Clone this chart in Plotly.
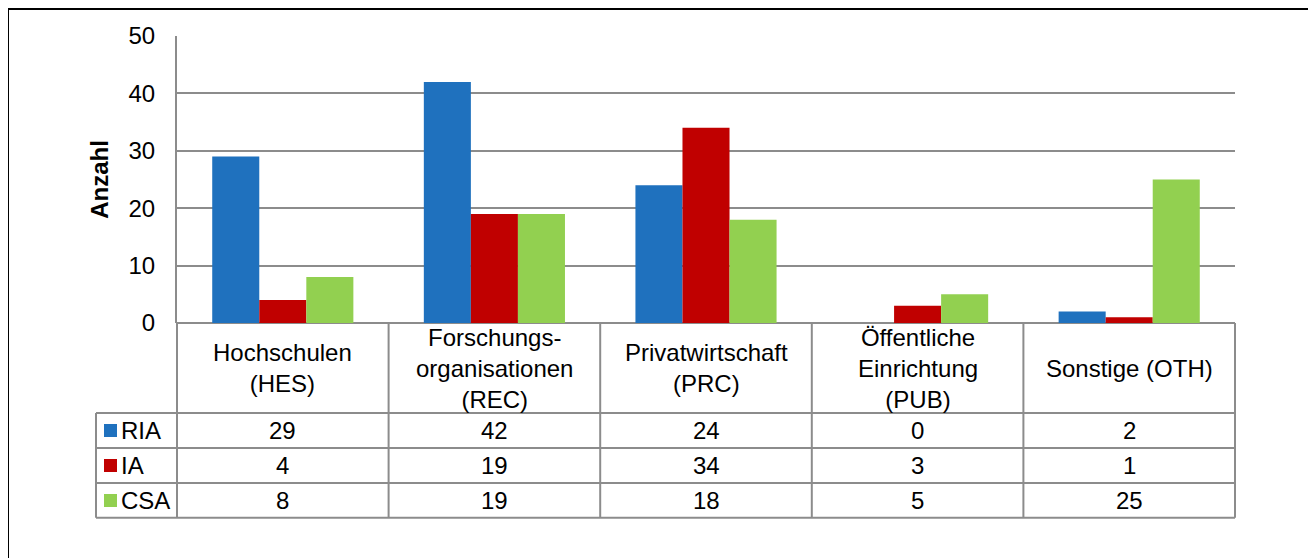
import plotly.graph_objects as go

kategorien = ["HES", "REC", "PRC", "PUB", "OTH"]
kategorie_labels = [
    "Hochschulen<br>(HES)",
    "Forschungs-<br>organisationen<br>(REC)",
    "Privatwirtschaft<br>(PRC)",
    "Öffentliche<br>Einrichtung<br>(PUB)",
    "Sonstige (OTH)",
]
serien = ["RIA", "IA", "CSA"]
werte_ria = [29, 42, 24, 0, 2]
werte_ia = [4, 19, 34, 3, 1]
werte_csa = [8, 19, 18, 5, 25]
farben = ["#1F71BE", "#C00000", "#92D050"]

W, H = 1316, 558
OFF = 8  # body margin of the html page
L, R, T, B = 177, 1235, 36, 323  # plot area in screen pixels
FONT = "Liberation Sans, Arial, sans-serif"
FS = 24
GRAU = "#8C8C8C"


def px_x(X):
    return (X - L) / (R - L)


def px_y(Y):
    return (B - Y) / (B - T)


fig = go.Figure()
for name, werte, farbe in zip(serien, [werte_ria, werte_ia, werte_csa], farben):
    fig.add_trace(go.Bar(x=kategorien, y=werte, name=name,
                         marker=dict(color=farbe, line=dict(width=0))))

# table lines
zeilen = [413, 448, 483, 517.7]
links_tab = 96
shapes = []
linie = dict(color=GRAU, width=2)
for Y in zeilen:
    shapes.append(dict(type="line", xref="paper", yref="paper",
                       x0=px_x(links_tab), x1=1, y0=px_y(Y), y1=px_y(Y), line=linie))
shapes.append(dict(type="line", xref="paper", yref="paper",
                   x0=px_x(links_tab), x1=px_x(links_tab), y0=px_y(413), y1=px_y(517.7), line=linie))
shapes.append(dict(type="line", xref="paper", yref="paper",
                   x0=0, x1=0, y0=0, y1=px_y(517.7), line=linie))
for k in range(1, len(kategorien) + 1):
    xp = k / len(kategorien)
    shapes.append(dict(type="line", xref="paper", yref="paper",
                       x0=xp, x1=xp, y0=0, y1=px_y(517.7), line=linie))

# outer frame
shapes.append(dict(type="rect", xref="paper", yref="paper",
                   x0=px_x(8), x1=px_x(1311), y0=px_y(9), y1=px_y(580),
                   line=dict(color="black", width=2), fillcolor="rgba(0,0,0,0)"))

annotations = []
for kat, lab in zip(kategorien, kategorie_labels):
    annotations.append(dict(x=kat, xref="x", y=px_y(368), yref="paper", text=lab,
                            showarrow=False, xanchor="center", yanchor="middle",
                            font=dict(family=FONT, size=FS, color="black")))

zeilen_mitte = [430.5, 465.5, 500.5]
for name, werte, farbe, Ym in zip(serien, [werte_ria, werte_ia, werte_csa], farben, zeilen_mitte):
    shapes.append(dict(type="rect", xref="paper", yref="paper",
                       x0=px_x(104), x1=px_x(117), y0=px_y(Ym - 6.5), y1=px_y(Ym + 6.5),
                       line=dict(width=0), fillcolor=farbe))
    annotations.append(dict(x=px_x(119), xref="paper", y=px_y(Ym), yref="paper", text=name,
                            showarrow=False, xanchor="left", yanchor="middle",
                            font=dict(family=FONT, size=FS, color="black")))
    for kat, v in zip(kategorien, werte):
        annotations.append(dict(x=kat, xref="x", y=px_y(Ym), yref="paper", text=str(v),
                                showarrow=False, xanchor="center", yanchor="middle",
                                font=dict(family=FONT, size=FS, color="black")))

fig.update_layout(
    width=W, height=H,
    margin=dict(l=L - OFF, r=W - (R - OFF), t=T - OFF, b=H - (B - OFF), pad=0),
    paper_bgcolor="white", plot_bgcolor="white",
    barmode="group", bargap=0.333, bargroupgap=0,
    showlegend=False,
    font=dict(family=FONT, size=FS, color="black"),
    shapes=shapes, annotations=annotations,
    xaxis=dict(showticklabels=False, showgrid=False, zeroline=False, showline=False,
               range=[-0.5, 4.5], fixedrange=True),
    yaxis=dict(range=[0, 50], dtick=10, showgrid=True, gridcolor=GRAU, gridwidth=2,
               zeroline=True, zerolinecolor=GRAU, zerolinewidth=2,
               showline=True, linecolor=GRAU, linewidth=2,
               ticks="", ticklabelstandoff=15,
               tickfont=dict(family=FONT, size=FS, color="black"),
               title=dict(text="<b>Anzahl</b>", standoff=13,
                          font=dict(family=FONT, size=FS, color="black"))),
)

fig.write_html("out.html")
